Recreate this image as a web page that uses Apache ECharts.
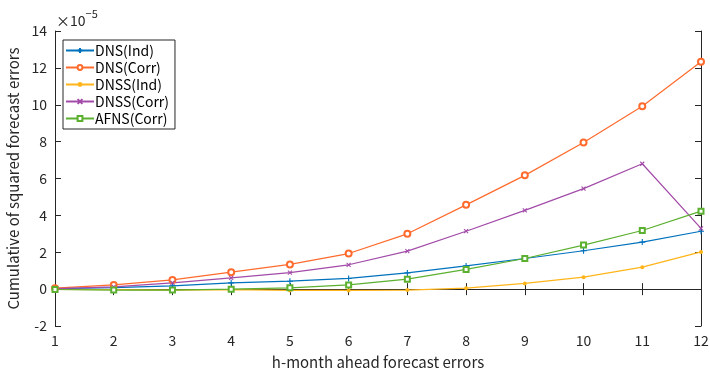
<!DOCTYPE html>
<html>
<head>
<meta charset="utf-8">
<script src="https://cdn.jsdelivr.net/npm/echarts@6/dist/echarts.min.js"></script>
<style>
  html, body { margin: 0; padding: 0; background: #fff; }
  #chart { width: 710px; height: 372px; }
</style>
</head>
<body>
<div id="chart"></div>
<script>
// values in units of 1e-5
const horizons = [1, 2, 3, 4, 5, 6, 7, 8, 9, 10, 11, 12];
const dnsInd   = [0.02, 0.08, 0.18, 0.34, 0.43, 0.58, 0.88, 1.26, 1.66, 2.08, 2.55, 3.14];
const dnsCorr  = [0.05, 0.23, 0.50, 0.92, 1.34, 1.93, 3.00, 4.57, 6.17, 7.95, 9.92, 12.33];
const dnssInd  = [-0.02, -0.03, -0.05, -0.03, -0.07, -0.07, -0.05, 0.05, 0.31, 0.65, 1.19, 2.02];
const dnssCorr = [0.03, 0.12, 0.34, 0.61, 0.90, 1.32, 2.06, 3.14, 4.27, 5.45, 6.80, 3.29];
const afnsCorr = [-0.02, -0.05, -0.05, 0.00, 0.07, 0.23, 0.54, 1.07, 1.66, 2.39, 3.18, 4.23];
const yTicks = [-2, 0, 2, 4, 6, 8, 10, 12, 14];

const FONT = '"Noto Sans CJK JP", "Liberation Sans", sans-serif';

const pair = arr => horizons.map((h, i) => [h, arr[i]]);

const plusPath = 'path://M5,0L5,10M0,5L10,5';
const crossPath = 'path://M0,0L10,10M10,0L0,10';

function mkSeries(name, arr, color, symbol, size, stroke) {
  return {
    name: name,
    type: 'line',
    data: pair(arr),
    symbol: symbol,
    symbolSize: size,
    showAllSymbol: true,
    lineStyle: { color: color, width: 1.2 },
    itemStyle: stroke
      ? { color: color, borderColor: color, borderWidth: 1.1 }
      : { color: color, borderWidth: 1.1 },
    emphasis: { disabled: true },
    z: 3
  };
}

const chart = echarts.init(document.getElementById('chart'));

const axisBase = {
  axisLine: { lineStyle: { color: '#262626', width: 1 } },
  axisTick: { inside: true, length: 6, lineStyle: { color: '#262626' } },
  splitLine: { show: false }
};

chart.setOption({
  animation: false,
  backgroundColor: '#fff',
  grid: { left: 55, right: 9, top: 31, bottom: 46, outerBoundsMode: 'none', containLabel: false },
  legend: {
    orient: 'vertical',
    left: 63,
    top: 40,
    padding: [2, 6, 2, 2],
    itemGap: 0,
    itemWidth: 28,
    itemHeight: 6,
    backgroundColor: '#fff',
    borderColor: '#262626',
    borderWidth: 1,
    textStyle: { fontFamily: FONT, fontSize: 14, lineHeight: 17, color: '#000', padding: [0, 0, 0, -4] },
    data: ['DNS(Ind)', 'DNS(Corr)', 'DNSS(Ind)', 'DNSS(Corr)', 'AFNS(Corr)']
  },
  xAxis: [
    Object.assign({}, axisBase, {
      type: 'value', min: 1, max: 12, interval: 1, position: 'bottom',
      axisLabel: { color: '#262626', fontFamily: FONT, fontSize: 14, margin: 8 },
      name: 'h-month ahead forecast errors',
      nameLocation: 'middle', nameGap: 29,
      nameTextStyle: { color: '#262626', fontFamily: FONT, fontSize: 15 }
    }),
    Object.assign({}, axisBase, {
      type: 'value', min: 1, max: 12, interval: 1, position: 'top',
      axisLabel: { show: false }
    })
  ],
  yAxis: [
    Object.assign({}, axisBase, {
      type: 'value', min: yTicks[0], max: yTicks[yTicks.length - 1], interval: 2, position: 'left',
      axisLabel: { color: '#262626', fontFamily: FONT, fontSize: 14, margin: 8 },
      name: 'Cumulative of squared forecast errors',
      nameLocation: 'middle', nameGap: 29,
      nameTextStyle: { color: '#262626', fontFamily: FONT, fontSize: 15 }
    }),
    Object.assign({}, axisBase, {
      type: 'value', min: yTicks[0], max: yTicks[yTicks.length - 1], interval: 2, position: 'right',
      axisLabel: { show: false }
    })
  ],
  graphic: [{
    type: 'text',
    left: 56,
    top: 8,
    style: {
      text: '{b|×10}{s|−5}',
      rich: {
        b: { fontFamily: FONT, fontSize: 14, fill: '#262626', verticalAlign: 'bottom', padding: [6, 0, 0, 0] },
        s: { fontFamily: FONT, fontSize: 11, fill: '#262626', verticalAlign: 'top' }
      }
    }
  }],
  series: [
    mkSeries('DNS(Ind)', dnsInd, '#0072BD', plusPath, 6, true),
    mkSeries('DNS(Corr)', dnsCorr, '#FF6B2D', 'emptyCircle', 6, false),
    mkSeries('DNSS(Ind)', dnssInd, '#FFB51A', 'circle', 4, false),
    mkSeries('DNSS(Corr)', dnssCorr, '#A24BA8', crossPath, 4, true),
    mkSeries('AFNS(Corr)', afnsCorr, '#5BB030', 'emptyRect', 5, false)
  ]
});
</script>
</body>
</html>
